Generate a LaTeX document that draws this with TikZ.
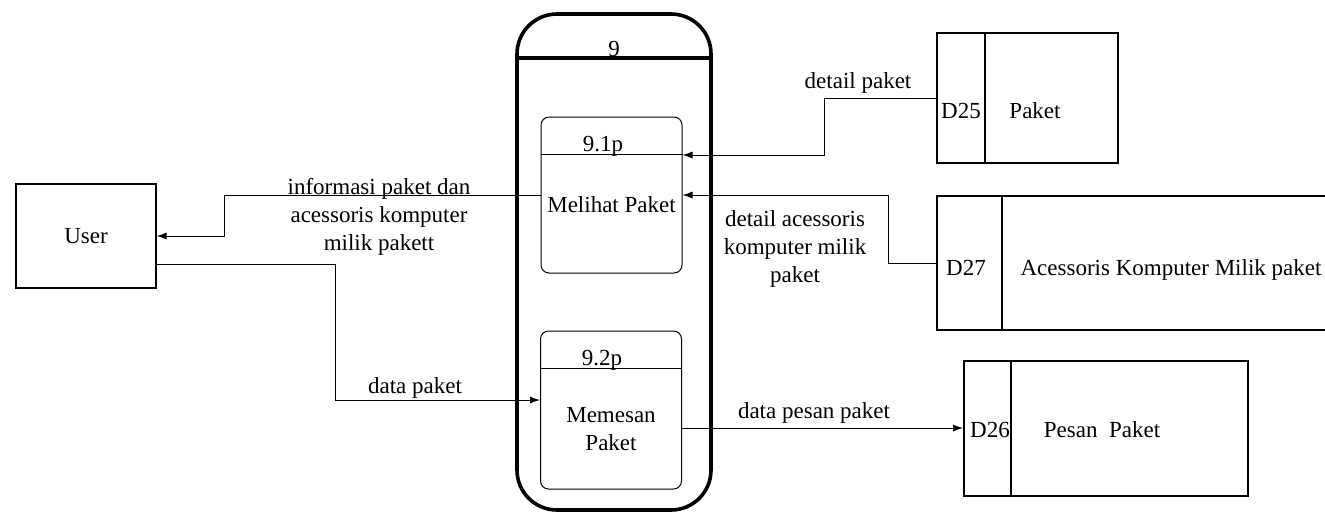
\documentclass[tikz,border=0pt]{standalone}
\usepackage{fontspec}
\setmainfont{Liberation Serif}
\usetikzlibrary{arrows.meta,positioning,calc}

\tikzset{
  dfdText/.style={font=\fontsize{11.5pt}{14pt}\selectfont, inner sep=0pt},
  entityBox/.style={draw, line width=0.6pt, minimum width=70pt, minimum height=52pt},
  processBox/.style={draw, line width=0.5pt, rounded corners=4pt, minimum width=70.5pt, minimum height=78pt},
  storeBox/.style={draw, line width=1pt, minimum height=65pt},
  flow/.style={-{Latex[length=5pt,width=3.5pt]}, line width=0.5pt}
}

\begin{document}
\begin{tikzpicture}[x=0.5pt,y=-0.5pt]
        \useasboundingbox (0,0) rectangle (1325,530);
        % External entity
        \node[entityBox, dfdText] (user) at (86,236) {User};
        % Parent process 9
        \node[draw, line width=1.8pt, rounded corners=20pt, minimum width=97pt, minimum height=248pt] (p9) at (614,262) {};
        \draw[line width=1.8pt] (p9.west |- 0,58) -- (p9.east |- 0,58);
        \node[dfdText, anchor=base] (p9num) at (614,56) {9};
        % Sub process 9.1p
        \node[processBox] (p91) at (611.5,195) {};
        \draw[line width=0.5pt] (p91.west |- 0,154) -- (p91.east |- 0,154);
        \node[dfdText, anchor=base] (p91num) at (603,151) {9.1p};
        \node[dfdText] (p91name) at (611.5,205) {Melihat Paket};
        % Sub process 9.2p
        \node[processBox, minimum height=79pt] (p92) at (611,410) {};
        \draw[line width=0.5pt] (p92.west |- 0,368) -- (p92.east |- 0,368);
        \node[dfdText, anchor=base] (p92num) at (602,365) {9.2p};
        \node[dfdText, align=center] (p92name) at (611,429) {Memesan\\Paket};
        % Data stores
        \node[storeBox, minimum width=90.5pt] (d25) at (1027.5,98) {};
        \draw[line width=1pt] ([xshift=24.5pt]d25.north west) -- ([xshift=24.5pt]d25.south west);
        \node[dfdText, anchor=base] (d25id) at (961,118) {D25};
        \node[dfdText, anchor=base] (d25name) at (1035,118) {Paket};
        \node[storeBox, minimum width=196.5pt, minimum height=67pt] (d27) at (1133.5,263) {};
        \draw[line width=1pt] ([xshift=33pt]d27.north west) -- ([xshift=33pt]d27.south west);
        \node[dfdText, anchor=base] (d27id) at (966,275) {D27};
        \node[dfdText, anchor=base] (d27name) at (1171,275) {Acessoris Komputer Milik paket};
        \node[storeBox, minimum width=142pt, minimum height=67.5pt] (d26) at (1106,428) {};
        \draw[line width=1pt] ([xshift=24pt]d26.north west) -- ([xshift=24pt]d26.south west);
        \node[dfdText, anchor=base] (d26id) at (990,437) {D26};
        \node[dfdText, anchor=base] (d26name) at (1102,437) {Pesan\ \ Paket};
        % Data flows
        \draw[flow] (p91.west) -- ++(-316,0) |- (user.east);
        \draw[flow] ([yshift=-14pt]user.east) -| (335,400) -- ([yshift=5pt]p92.west);
        \draw[flow] (d25.west) -| (824,155) -- ([yshift=20pt]p91.east);
        \draw[flow] (d27.west) -| (888,195) -- (p91.east);
        \draw[flow] ([yshift=-9pt]p92.east) -- (d26.west);
        % Flow labels
        \node[dfdText, align=center] (infoLbl) at (379,217) {informasi paket dan\\acessoris komputer\\milik pakett};
        \node[dfdText, anchor=base] (dataPaketLbl) at (415,393) {data paket};
        \node[dfdText, anchor=base] (detailPaketLbl) at (858,88) {detail paket};
        \node[dfdText, align=center] (detailAksLbl) at (795,249) {detail acessoris\\komputer milik\\paket};
        \node[dfdText, anchor=base] (pesanLbl) at (814,418) {data pesan paket};
\end{tikzpicture}
\end{document}
